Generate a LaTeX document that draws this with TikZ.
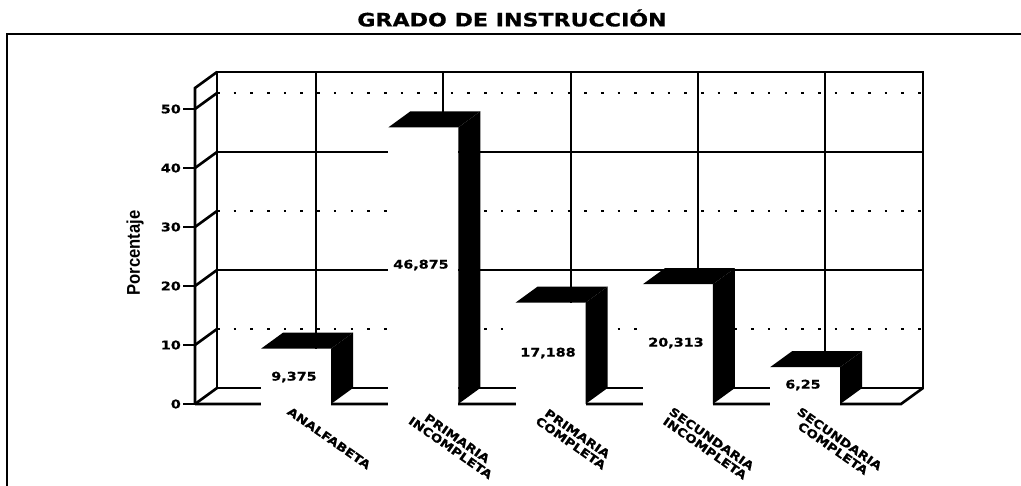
\documentclass[tikz,border=0pt]{standalone}
\usepackage{fontspec}
\newfontfamily\chartfont[FakeStretch=1.2, BoldFeatures={FakeBold=0.6}]{DejaVu Sans}
\newfontfamily\axisfont[FakeStretch=0.9]{Liberation Sans}
\usetikzlibrary{calc}

\tikzset{
	wall/.style={line width=1.5pt},
	majorgrid/.style={line width=1.1pt},
	minorgrid/.style={line width=0.9pt, dash pattern=on 1.5pt off 8pt},
	barface/.style={fill=black},
	numfont/.style={font=\chartfont\bfseries\fontsize{6.8}{7.8}\selectfont},
	ticklabel/.style={numfont, anchor=east, inner sep=0.5pt},
	catlabel/.style={font=\chartfont\bfseries\fontsize{6.5}{6.6}\selectfont, rotate=-35, anchor=north west, align=center, inner sep=0pt},
}

\begin{document}
\begin{tikzpicture}[x=0.02cm, y=-0.02cm]
		\useasboundingbox (0,0) rectangle (1021,486);

		\coordinate (dp) at (22,-16);
		\coordinate (t0) at (195,404);
		\coordinate (t10) at (195,345);
		\coordinate (t20) at (195,286);
		\coordinate (t30) at (195,227);
		\coordinate (t40) at (195,168);
		\coordinate (t50) at (195,109);
		\coordinate (ttop) at (195,88);

		\draw[line width=1.1pt] (7,486) -- (7,34) -- (1021,34);
		\node[font=\chartfont\bfseries\fontsize{10.5}{12}\selectfont] (title) at (512,18) {GRADO DE INSTRUCCIÓN};
		\node[font=\axisfont\bfseries\fontsize{10.5}{12}\selectfont, rotate=90] (ylab) at (135,253) {Porcentaje};

		\draw[minorgrid] ($(t10)+(dp)$) -- ++(706,0);
		\draw[minorgrid] ($(t30)+(dp)$) -- ++(706,0);
		\draw[minorgrid] ($(t50)+(dp)$) -- ++(706,0);
		\draw[majorgrid] ($(t20)+(dp)$) -- ++(706,0);
		\draw[majorgrid] ($(t40)+(dp)$) -- ++(706,0);
		\draw[majorgrid] (316,72) -- (316,388);
		\draw[majorgrid] (443,72) -- (443,388);
		\draw[majorgrid] (571,72) -- (571,388);
		\draw[majorgrid] (698,72) -- (698,388);
		\draw[majorgrid] (825,72) -- (825,388);

		\draw[wall] ($(ttop)+(dp)$) rectangle (923,388);
		\draw[wall] (t0) -- (ttop) -- ++(dp);
		\draw[wall] (t0) -- (901,404) -- ++(dp);
		\draw[wall] (t0) -- ++(dp);
		\draw[wall] (t10) -- ++(dp);
		\draw[wall] (t20) -- ++(dp);
		\draw[wall] (t30) -- ++(dp);
		\draw[wall] (t40) -- ++(dp);
		\draw[wall] (t50) -- ++(dp);

		\draw[wall] (t0) -- ++(-12,0) node[ticklabel] {0};
		\draw[wall] (t10) -- ++(-12,0) node[ticklabel] {10};
		\draw[wall] (t20) -- ++(-12,0) node[ticklabel] {20};
		\draw[wall] (t30) -- ++(-12,0) node[ticklabel] {30};
		\draw[wall] (t40) -- ++(-12,0) node[ticklabel] {40};
		\draw[wall] (t50) -- ++(-12,0) node[ticklabel] {50};

		\fill[white] (261,406) rectangle (331,348.7);
		\fill[barface] (261,348.7) -- ++(70,0) -- ++(dp) -- ++(-70,0) -- cycle;
		\fill[barface] (331,348.7) -- ++(dp) -- (353,388) -- (331,404) -- cycle;
		\node[numfont] (v1) at (294,377) {9,375};
		\node[catlabel] (c1) at (291,406) {ANALFABETA};

		\fill[white] (388.3,406) rectangle (458.3,127.4);
		\fill[barface] (388.3,127.4) -- ++(70,0) -- ++(dp) -- ++(-70,0) -- cycle;
		\fill[barface] (458.3,127.4) -- ++(dp) -- (480.3,388) -- (458.3,404) -- cycle;
		\node[numfont] (v2) at (421,265) {46,875};
		\node[catlabel] (c2) at (419,406) {PRIMARIA\\INCOMPLETA};

		\fill[white] (515.6,406) rectangle (585.6,302.6);
		\fill[barface] (515.6,302.6) -- ++(70,0) -- ++(dp) -- ++(-70,0) -- cycle;
		\fill[barface] (585.6,302.6) -- ++(dp) -- (607.6,388) -- (585.6,404) -- cycle;
		\node[numfont] (v3) at (548,353) {17,188};
		\node[catlabel] (c3) at (546,406) {PRIMARIA\\COMPLETA};

		\fill[white] (642.9,406) rectangle (712.9,284.2);
		\fill[barface] (642.9,284.2) -- ++(70,0) -- ++(dp) -- ++(-70,0) -- cycle;
		\fill[barface] (712.9,284.2) -- ++(dp) -- (734.9,388) -- (712.9,404) -- cycle;
		\node[numfont] (v4) at (676,343) {20,313};
		\node[catlabel] (c4) at (673,406) {SECUNDARIA\\INCOMPLETA};

		\fill[white] (770.2,406) rectangle (840.2,367.1);
		\fill[barface] (770.2,367.1) -- ++(70,0) -- ++(dp) -- ++(-70,0) -- cycle;
		\fill[barface] (840.2,367.1) -- ++(dp) -- (862.2,388) -- (840.2,404) -- cycle;
		\node[numfont] (v5) at (803,385) {6,25};
		\node[catlabel] (c5) at (801,406) {SECUNDARIA\\COMPLETA};
	\end{tikzpicture}
\end{document}
